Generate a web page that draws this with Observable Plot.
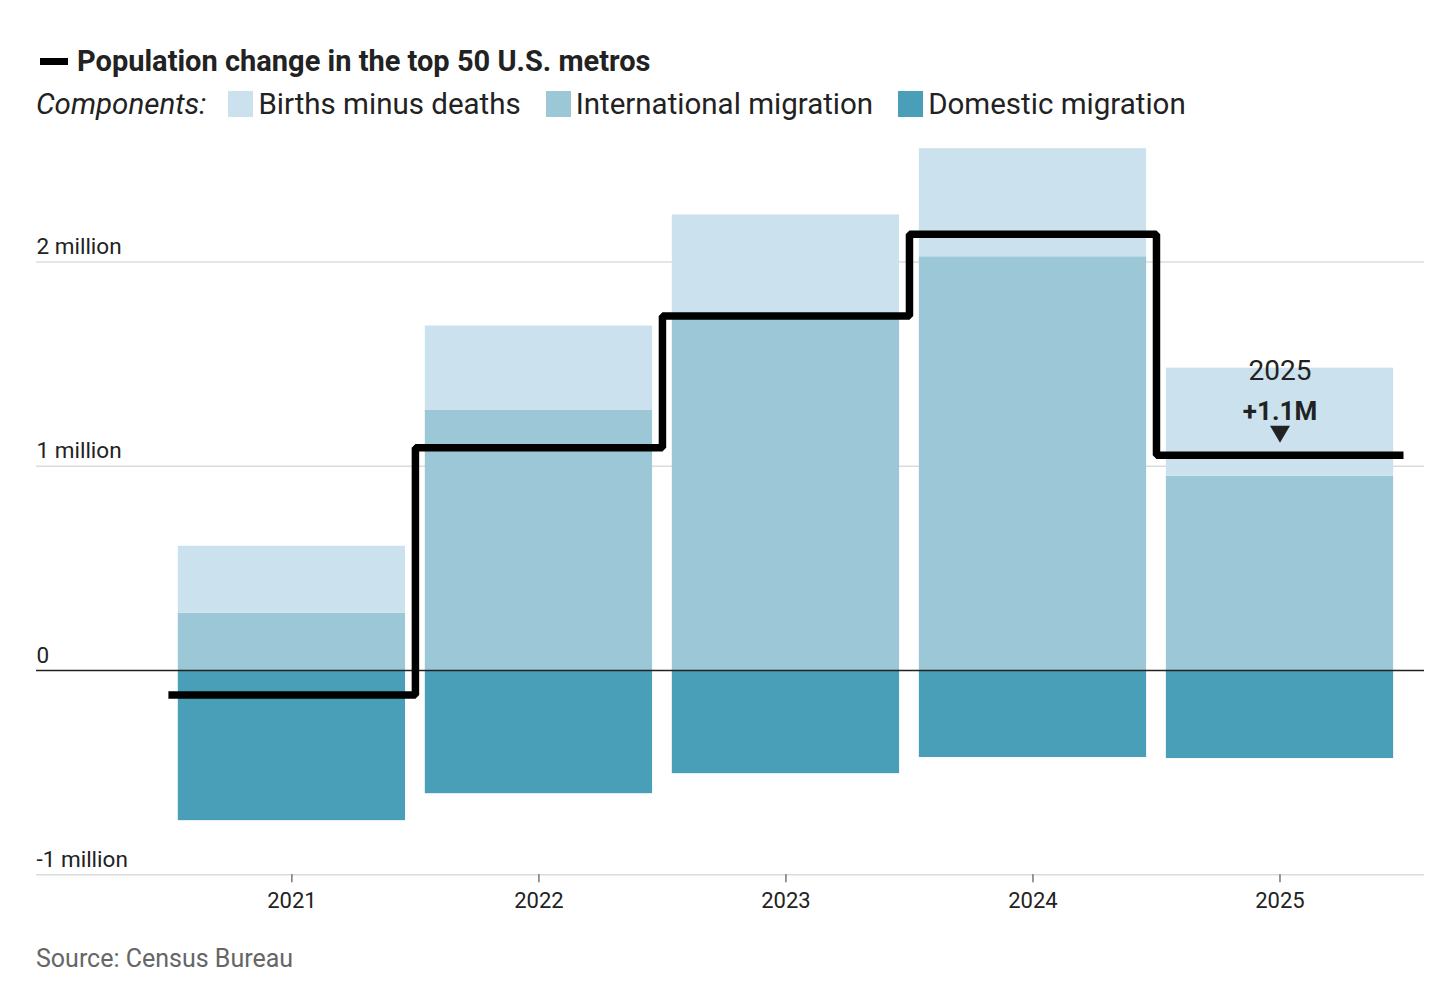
<!DOCTYPE html>
<html><head><meta charset="utf-8">
<script src="https://cdn.jsdelivr.net/npm/d3@7"></script>
<script src="https://cdn.jsdelivr.net/npm/@observablehq/plot@0.6"></script>
<style>
body{margin:0;background:#fff;font-family:Roboto,sans-serif;color:#222;}
#wrap{position:relative;width:1456px;height:1002px;overflow:hidden;}
.title{position:absolute;left:40px;top:45px;font-weight:700;font-size:29px;line-height:32px;display:flex;align-items:center;letter-spacing:0px;}
.title .key{width:28px;height:7px;background:#000;margin-right:9px;}
.legend{position:absolute;left:36px;top:91px;display:flex;align-items:center;font-size:29.5px;line-height:26px;white-space:nowrap;}
.legend .lab{font-style:italic;margin-right:22px;}
.legend .item{display:flex;align-items:center;margin-right:25px;}
.legend .sw{width:25px;height:26px;margin-right:5px;}
#chart{position:absolute;left:0;top:130px;}
.source{position:absolute;left:36px;top:945px;font-size:25px;line-height:28px;color:#666;}
</style></head>
<body><div id="wrap">
<div class="title"><span class="key"></span><span id="title"></span></div>
<div class="legend" id="legend"></div>
<div id="chart"></div>
<div class="source" id="source"></div>
</div>
<script>
const titleText = "Population change in the top 50 U.S. metros";
const legendLabel = "Components:";
const components = ["Births minus deaths", "International migration", "Domestic migration"];
const componentColors = ["#cbe2ee", "#9bc7d6", "#4a9fb8"];
const years = [2021, 2022, 2023, 2024, 2025];
const birthsMinusDeaths = [0.328, 0.411, 0.51, 0.529, 0.529];
const internationalMigration = [0.28, 1.275, 1.72, 2.025, 0.951];
const domesticMigration = [-0.735, -0.603, -0.505, -0.426, -0.431];
const netChange = [-0.12, 1.09, 1.735, 2.135, 1.053];
const yTicks = [-1, 0, 1, 2];
const yTickLabels = ["-1 million", "0", "1 million", "2 million"];
const annotationYear = "2025";
const annotationValue = "+1.1M";
const sourceText = "Source: Census Bureau";

document.getElementById("title").textContent = titleText;
document.getElementById("source").textContent = sourceText;
const lg = document.getElementById("legend");
const lab = document.createElement("span"); lab.className = "lab"; lab.textContent = legendLabel; lg.appendChild(lab);
components.forEach((c, i) => {
  const it = document.createElement("span"); it.className = "item";
  const sw = document.createElement("span"); sw.className = "sw"; sw.style.background = componentColors[i];
  const t = document.createElement("span"); t.textContent = c;
  it.appendChild(sw); it.appendChild(t); lg.appendChild(it);
});

const rows = years.flatMap((yr, i) => [
  {year: yr, component: components[1], y1: 0, y2: internationalMigration[i]},
  {year: yr, component: components[0], y1: internationalMigration[i], y2: internationalMigration[i] + birthsMinusDeaths[i]},
  {year: yr, component: components[2], y1: domesticMigration[i], y2: 0}
]);
const step = years.flatMap((yr, i) => [{x: yr - 0.5, y: netChange[i]}, {x: yr + 0.5, y: netChange[i]}]);
const last = [{x: years[years.length - 1], y: netChange[netChange.length - 1]}];
const downTriangle = {draw(ctx, size) {
  const r = Math.sqrt(size / Math.PI);
  ctx.moveTo(-r, -r * 0.85); ctx.lineTo(r, -r * 0.85); ctx.lineTo(0, r * 0.85); ctx.closePath();
}};

const chart = Plot.plot({
  width: 1456, height: 800,
  marginLeft: 36, marginRight: 32, marginTop: 8.8, marginBottom: 55.7,
  style: {fontFamily: "Roboto, sans-serif", color: "#222", background: "transparent"},
  x: {domain: [2019.966, 2025.585], axis: null},
  y: {domain: [-1, 2.6], axis: null},
  color: {domain: components, range: componentColors},
  marks: [
    Plot.ruleY([-1, 1, 2], {stroke: "#dcdcdc", strokeWidth: 1.5}),
    Plot.rect(rows, {x1: d => d.year - 0.46, x2: d => d.year + 0.46, y1: "y1", y2: "y2", fill: "component"}),
    Plot.ruleY([0], {stroke: "#222", strokeWidth: 1.5}),
    Plot.text(yTicks, {y: d => d, text: yTickLabels, frameAnchor: "left", textAnchor: "start", lineAnchor: "middle", dy: -15, fontSize: 22.5, fill: "#222"}),
    Plot.axisX({ticks: years, tickFormat: d => String(d), tickSize: 8, tickPadding: 10, fontSize: 22, stroke: "#333", fill: "#222", label: null}),
    Plot.line(step, {x: "x", y: "y", stroke: "#000", strokeWidth: 7.5, strokeLinejoin: "miter", strokeLinecap: "butt"}),
    Plot.text(last, {x: "x", y: "y", text: () => annotationYear, dy: -84, fontSize: 28, fill: "#222"}),
    Plot.text(last, {x: "x", y: "y", text: () => annotationValue, dy: -44, fontSize: 26, fontWeight: 700, fill: "#222"}),
    Plot.dot(last, {x: "x", y: "y", symbol: downTriangle, r: 10, fill: "#222", stroke: null, dy: -21})
  ]
});
document.getElementById("chart").appendChild(chart);
</script>
</body></html>
